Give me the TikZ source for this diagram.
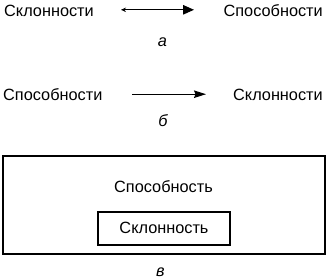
\documentclass[tikz,border=0pt]{standalone}
\usepackage{fontspec}
\setmainfont{Liberation Sans}
\usetikzlibrary{arrows.meta}

\begin{document}
\begin{tikzpicture}[x=1pt,y=-1pt,
  word/.style={font=\fontsize{16.3}{20}\selectfont,inner sep=0pt,anchor=base west},
  sublbl/.style={font=\fontsize{16.3}{20}\selectfont\itshape,inner sep=0pt,anchor=base},
  frame/.style={draw,line width=1.100pt,inner sep=0pt},
  link/.style={line width=1.100pt}]
\useasboundingbox (0.000,0.000) rectangle (329.000,279.000);
\node[word] (sklA) at (4.000,16.700) {Склонности};
\node[word,anchor=base east] (sposA) at (323.000,16.700) {Способности};
\coordinate (aFrom) at (121.000,9.800);
\coordinate (aTo) at (194.000,9.800);
\draw[link,{Stealth[length=5pt,width=4.5pt]}-{Triangle[length=11pt,width=9.5pt]}] (aFrom) -- (aTo);
\node[sublbl] (capA) at (162.500,46.700) {а};
\node[word] (sposB) at (3.000,100.700) {Способности};
\node[word,anchor=base east] (sklB) at (323.000,100.700) {Склонности};
\coordinate (bFrom) at (132.000,94.200);
\coordinate (bTo) at (206.000,94.200);
\draw[link,-{Stealth[length=12pt,width=7.5pt,inset=1.5pt]}] (bFrom) -- (bTo);
\node[sublbl] (capB) at (163.000,126.700) {б};
\node[frame,minimum width=322pt,minimum height=98pt] (outer) at (164.000,205.000) {};
\node[frame,minimum width=132pt,minimum height=33pt] (inner) at (164.000,228.500) {};
\node[word,anchor=base] (sposC) at (163.500,192.500) {Способность};
\node[word,anchor=base] (sklC) at (164.000,233.700) {Склонность};
\node[sublbl] (capC) at (160.500,276.700) {в};
\end{tikzpicture}
\end{document}
